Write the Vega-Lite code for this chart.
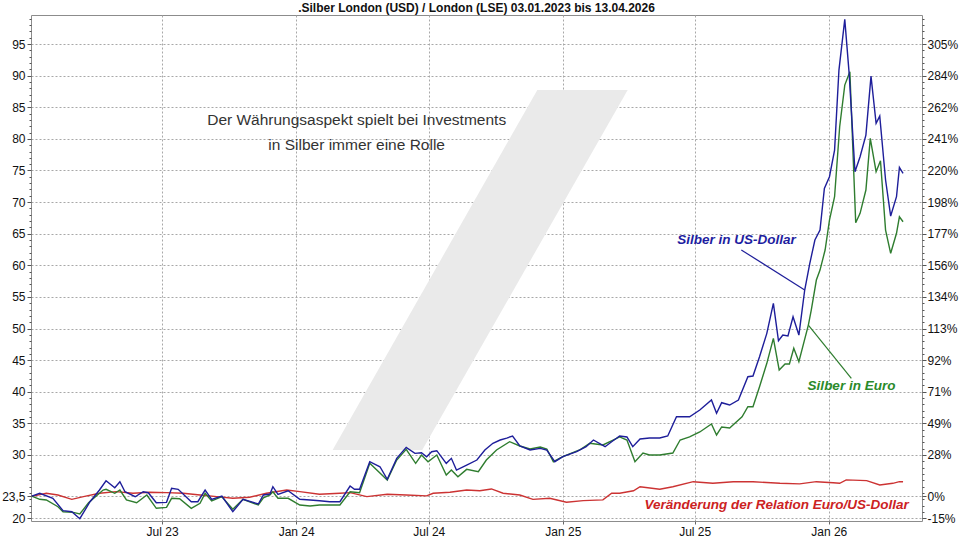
{
  "$schema": "https://vega.github.io/schema/vega-lite/v6.json",
  "width": 891,
  "height": 506,
  "autosize": {"type": "none"},
  "padding": {"left": 31, "top": 15, "right": 38, "bottom": 19},
  "background": "white",
  "title": {"text": ".Silber London (USD) / London (LSE) 03.01.2023 bis 13.04.2026", "font": "Liberation Sans", "fontSize": 12, "fontWeight": "bold", "color": "#111", "anchor": "middle", "frame": "group", "offset": 3, "dy": 5},
  "config": {"view": {"stroke": "#8c8c8c", "strokeWidth": 1}},
  "datasets": {
    "usd": [
      {"d":"2023-01-03","v":23.5},{"d":"2023-01-14","v":23.94},{"d":"2023-02-01","v":23.15},{"d":"2023-02-15","v":21.19},{"d":"2023-02-27","v":21.03},{"d":"2023-03-10","v":19.92},{"d":"2023-03-24","v":22.61},{"d":"2023-04-06","v":24.46},{"d":"2023-04-15","v":25.93},{"d":"2023-04-27","v":24.82},{"d":"2023-05-04","v":25.77},{"d":"2023-05-11","v":24.19},{"d":"2023-05-25","v":23.40},{"d":"2023-06-05","v":24.19},{"d":"2023-06-12","v":24.03},{"d":"2023-06-23","v":22.45},{"d":"2023-07-07","v":22.51},{"d":"2023-07-14","v":24.73},{"d":"2023-07-23","v":24.57},{"d":"2023-08-10","v":22.61},{"d":"2023-08-19","v":22.61},{"d":"2023-08-29","v":24.46},{"d":"2023-09-07","v":22.99},{"d":"2023-09-21","v":23.51},{"d":"2023-10-06","v":21.03},{"d":"2023-10-20","v":22.99},{"d":"2023-11-10","v":22.25},{"d":"2023-11-17","v":23.67},{"d":"2023-11-26","v":23.83},{"d":"2023-11-30","v":24.98},{"d":"2023-12-07","v":23.78},{"d":"2023-12-21","v":24.35},
      {"d":"2024-01-06","v":22.99},{"d":"2024-01-20","v":22.88},{"d":"2024-02-02","v":22.77},{"d":"2024-02-16","v":22.61},{"d":"2024-03-01","v":22.61},{"d":"2024-03-15","v":25.09},{"d":"2024-03-21","v":24.57},{"d":"2024-03-28","v":24.57},{"d":"2024-04-11","v":28.94},{"d":"2024-04-25","v":28.14},{"d":"2024-05-05","v":26.15},{"d":"2024-05-18","v":29.47},{"d":"2024-05-31","v":31.21},{"d":"2024-06-12","v":30.26},{"d":"2024-06-21","v":30.36},{"d":"2024-06-28","v":29.73},{"d":"2024-07-05","v":30.52},{"d":"2024-07-12","v":30.68},{"d":"2024-07-25","v":28.68},{"d":"2024-08-01","v":29.47},{"d":"2024-08-08","v":27.62},{"d":"2024-08-22","v":28.41},{"d":"2024-09-05","v":29.20},{"d":"2024-09-16","v":30.79},{"d":"2024-09-27","v":31.85},{"d":"2024-10-07","v":32.37},{"d":"2024-10-16","v":32.68},{"d":"2024-10-24","v":33.0},{"d":"2024-11-03","v":31.42},{"d":"2024-11-17","v":30.79},{"d":"2024-12-01","v":31.05},{"d":"2024-12-10","v":30.79},{"d":"2024-12-21","v":28.94},
      {"d":"2025-01-01","v":29.73},{"d":"2025-01-20","v":30.52},{"d":"2025-02-02","v":31.31},{"d":"2025-02-12","v":32.37},{"d":"2025-02-28","v":31.31},{"d":"2025-03-09","v":32.10},{"d":"2025-03-20","v":33.0},{"d":"2025-03-30","v":32.85},{"d":"2025-04-07","v":31.31},{"d":"2025-04-17","v":32.53},{"d":"2025-04-30","v":32.68},{"d":"2025-05-14","v":32.68},{"d":"2025-05-25","v":33.0},{"d":"2025-06-06","v":36.05},{"d":"2025-06-24","v":36.05},{"d":"2025-07-08","v":37.11},{"d":"2025-07-24","v":38.69},{"d":"2025-07-31","v":36.59},{"d":"2025-08-07","v":38.27},{"d":"2025-08-18","v":37.90},{"d":"2025-08-30","v":38.69},{"d":"2025-09-12","v":42.38},{"d":"2025-09-19","v":42.49},{"d":"2025-09-28","v":45.54},{"d":"2025-10-08","v":49.24},{"d":"2025-10-17","v":53.99},{"d":"2025-10-24","v":48.07},{"d":"2025-10-30","v":48.97},{"d":"2025-11-06","v":48.82},{"d":"2025-11-13","v":51.87},{"d":"2025-11-21","v":48.97},{"d":"2025-11-29","v":56.09},{"d":"2025-12-06","v":60.31},{"d":"2025-12-13","v":64.0},{"d":"2025-12-20","v":65.58},{"d":"2025-12-26","v":72.17},
      {"d":"2026-01-02","v":74.01},{"d":"2026-01-09","v":78.23},{"d":"2026-01-15","v":90.88},{"d":"2026-01-23","v":98.9},{"d":"2026-01-29","v":90.36},{"d":"2026-02-06","v":74.8},{"d":"2026-02-13","v":77.17},{"d":"2026-02-21","v":80.6},{"d":"2026-02-28","v":89.93},{"d":"2026-03-07","v":82.45},{"d":"2026-03-12","v":83.6},{"d":"2026-03-20","v":73.49},{"d":"2026-03-27","v":67.79},{"d":"2026-04-04","v":70.85},{"d":"2026-04-08","v":75.5},{"d":"2026-04-13","v":74.55}
    ],
    "eur": [
      {"d":"2023-01-03","v":23.5},{"d":"2023-01-14","v":22.99},{"d":"2023-01-23","v":22.88},{"d":"2023-02-08","v":21.82},{"d":"2023-02-15","v":21.03},{"d":"2023-03-01","v":20.93},{"d":"2023-03-10","v":20.66},{"d":"2023-03-22","v":22.45},{"d":"2023-04-11","v":24.46},{"d":"2023-04-15","v":24.57},{"d":"2023-04-27","v":23.94},{"d":"2023-05-04","v":24.46},{"d":"2023-05-13","v":22.88},{"d":"2023-05-27","v":22.45},{"d":"2023-06-10","v":23.67},{"d":"2023-06-23","v":21.57},{"d":"2023-07-07","v":21.72},{"d":"2023-07-14","v":23.15},{"d":"2023-07-25","v":23.08},{"d":"2023-08-10","v":21.57},{"d":"2023-08-22","v":22.36},{"d":"2023-08-29","v":23.94},{"d":"2023-09-07","v":22.72},{"d":"2023-09-21","v":23.40},{"d":"2023-10-06","v":21.41},{"d":"2023-10-20","v":22.99},{"d":"2023-11-10","v":22.09},{"d":"2023-11-17","v":23.24},{"d":"2023-11-26","v":23.67},{"d":"2023-11-30","v":24.19},{"d":"2023-12-07","v":23.15},{"d":"2023-12-21","v":23.15},
      {"d":"2024-01-06","v":22.09},{"d":"2024-01-20","v":21.93},{"d":"2024-02-02","v":22.09},{"d":"2024-03-01","v":22.09},{"d":"2024-03-15","v":24.19},{"d":"2024-03-28","v":24.03},{"d":"2024-04-11","v":28.68},{"d":"2024-05-05","v":26.04},{"d":"2024-05-18","v":29.20},{"d":"2024-05-31","v":30.90},{"d":"2024-06-13","v":28.68},{"d":"2024-06-21","v":30.0},{"d":"2024-06-30","v":28.94},{"d":"2024-07-12","v":30.0},{"d":"2024-07-25","v":26.84},{"d":"2024-08-01","v":27.62},{"d":"2024-08-10","v":26.56},{"d":"2024-08-22","v":27.73},{"d":"2024-09-07","v":27.35},{"d":"2024-09-18","v":29.20},{"d":"2024-10-02","v":30.79},{"d":"2024-10-20","v":32.10},{"d":"2024-11-03","v":31.42},{"d":"2024-11-17","v":30.95},{"d":"2024-12-01","v":31.26},{"d":"2024-12-10","v":30.95},{"d":"2024-12-19","v":28.94},
      {"d":"2025-01-01","v":29.73},{"d":"2025-01-24","v":30.79},{"d":"2025-02-07","v":31.85},{"d":"2025-02-25","v":31.58},{"d":"2025-03-11","v":32.37},{"d":"2025-03-20","v":32.85},{"d":"2025-03-30","v":32.37},{"d":"2025-04-10","v":28.94},{"d":"2025-04-21","v":30.31},{"d":"2025-04-30","v":30.0},{"d":"2025-05-14","v":30.0},{"d":"2025-06-01","v":30.31},{"d":"2025-06-11","v":32.37},{"d":"2025-06-24","v":32.85},{"d":"2025-07-08","v":33.64},{"d":"2025-07-24","v":34.90},{"d":"2025-07-31","v":33.17},{"d":"2025-08-07","v":34.43},{"d":"2025-08-18","v":34.27},{"d":"2025-09-04","v":36.05},{"d":"2025-09-12","v":37.63},{"d":"2025-09-19","v":37.63},{"d":"2025-09-28","v":40.80},{"d":"2025-10-08","v":44.50},{"d":"2025-10-17","v":48.45},{"d":"2025-10-25","v":43.44},{"d":"2025-11-02","v":44.39},{"d":"2025-11-08","v":44.39},{"d":"2025-11-14","v":46.87},{"d":"2025-11-21","v":44.75},{"d":"2025-12-04","v":50.55},{"d":"2025-12-08","v":52.93},{"d":"2025-12-15","v":57.67},{"d":"2025-12-20","v":59.25},{"d":"2025-12-27","v":62.42},
      {"d":"2026-01-02","v":67.16},{"d":"2026-01-09","v":70.85},{"d":"2026-01-16","v":81.92},{"d":"2026-01-23","v":88.51},{"d":"2026-01-30","v":90.62},{"d":"2026-02-07","v":66.73},{"d":"2026-02-13","v":68.22},{"d":"2026-02-21","v":71.91},{"d":"2026-02-27","v":80.08},{"d":"2026-03-07","v":74.80},{"d":"2026-03-13","v":76.54},{"d":"2026-03-20","v":65.58},{"d":"2026-03-27","v":61.90},{"d":"2026-04-04","v":65.06},{"d":"2026-04-08","v":67.68},{"d":"2026-04-13","v":66.89}
    ],
    "rel": [
      {"d":"2023-01-03","p":0},{"d":"2023-01-23","p":2.1},{"d":"2023-02-08","p":0.9},{"d":"2023-02-27","p":-2.0},{"d":"2023-03-15","p":-0.2},{"d":"2023-04-06","p":2.1},{"d":"2023-04-29","p":3.2},{"d":"2023-05-22","p":2.1},{"d":"2023-06-14","p":2.8},{"d":"2023-07-07","p":2.5},{"d":"2023-07-30","p":2.1},{"d":"2023-08-22","p":0.9},{"d":"2023-09-14","p":-0.2},{"d":"2023-10-06","p":-1.3},{"d":"2023-10-29","p":-0.6},{"d":"2023-11-21","p":2.1},{"d":"2023-12-19","p":4.3},
      {"d":"2024-01-06","p":3.2},{"d":"2024-02-02","p":1.4},{"d":"2024-03-01","p":2.1},{"d":"2024-03-15","p":2.5},{"d":"2024-04-07","p":-0.2},{"d":"2024-05-05","p":1.4},{"d":"2024-05-31","p":0.9},{"d":"2024-06-28","p":0.3},{"d":"2024-07-07","p":2.1},{"d":"2024-07-30","p":2.8},{"d":"2024-08-22","p":4.3},{"d":"2024-09-09","p":3.8},{"d":"2024-09-25","p":5.0},{"d":"2024-10-11","p":2.1},{"d":"2024-11-03","p":0.9},{"d":"2024-11-21","p":-2.0},{"d":"2024-12-14","p":-1.3},
      {"d":"2025-01-06","p":-4.0},{"d":"2025-01-29","p":-2.9},{"d":"2025-02-25","p":-2.4},{"d":"2025-03-09","p":2.1},{"d":"2025-03-20","p":2.1},{"d":"2025-04-08","p":3.8},{"d":"2025-04-17","p":6.5},{"d":"2025-05-14","p":4.8},{"d":"2025-06-01","p":6.5},{"d":"2025-06-29","p":9.9},{"d":"2025-07-26","p":8.8},{"d":"2025-08-23","p":9.9},{"d":"2025-09-19","p":9.9},{"d":"2025-10-26","p":8.8},{"d":"2025-11-22","p":8.4},{"d":"2025-12-15","p":9.9},
      {"d":"2026-01-07","p":9.2},{"d":"2026-01-16","p":8.8},{"d":"2026-01-25","p":11.1},{"d":"2026-02-22","p":10.6},{"d":"2026-03-12","p":7.7},{"d":"2026-03-30","p":8.8},{"d":"2026-04-08","p":9.9},{"d":"2026-04-13","p":9.9}
    ],
    "mark": [
      {"v":30.79,"d":"2024-02-20","d2":"2024-06-22"},
      {"v":87.72,"d":"2024-11-27","d2":"2025-03-31"}
    ],
    "intro": [
      {"d":"2024-03-24","v":82.98,"t":"Der Währungsaspekt spielt bei Investments"},
      {"d":"2024-03-24","v":79.03,"t":"in Silber immer eine Rolle"}
    ],
    "lblusd": [{"d":"2025-06-07","v":64.0,"t":"Silber in US-Dollar"}],
    "lbleur": [{"d":"2025-12-03","v":40.91,"t":"Silber in Euro"}],
    "lblrel": [{"d":"2025-04-23","v":22.09,"t":"Veränderung der Relation Euro/US-Dollar"}],
    "legusd": [{"d":"2025-09-03","v":62.43,"d2":"2025-11-29","v2":56.09}],
    "legeur": [{"d":"2025-12-04","v":50.55,"d2":"2026-02-01","v2":42.13}]
  },
  "encoding": {
    "x": {
      "field": "d", "type": "temporal",
      "scale": {"type": "utc", "domain": [{"year": 2023, "month": 1, "date": 2, "utc": true}, {"year": 2026, "month": 5, "date": 9, "utc": true}]},
      "axis": {
        "title": null,
        "labelExpr": "utcFormat(datum.value, '%b %y')",
        "values": [{"year": 2023, "month": 7, "date": 1, "utc": true}, {"year": 2024, "month": 1, "date": 1, "utc": true}, {"year": 2024, "month": 7, "date": 1, "utc": true}, {"year": 2025, "month": 1, "date": 1, "utc": true}, {"year": 2025, "month": 7, "date": 1, "utc": true}, {"year": 2026, "month": 1, "date": 1, "utc": true}],
        "grid": true, "gridColor": "#a8a8a8", "gridDash": [2, 2], "gridWidth": 1,
        "domain": false, "tickSize": 3, "tickColor": "#666",
        "labelFont": "Liberation Sans", "labelFontSize": 12, "labelColor": "#111", "labelPadding": 2, "labelFlush": false
      }
    }
  },
  "layer": [
    {
      "data": {"name": "rel"},
      "mark": {"type": "line", "color": "#cc3333", "strokeWidth": 1.4},
      "encoding": {
        "y": {
          "field": "p", "type": "quantitative",
          "scale": {"domain": [-16.613, 324.564], "nice": false, "zero": false},
          "axis": {
            "orient": "right", "title": null, "grid": false, "domain": false,
            "values": [0.18,-14.74,-10.47,-6.21,-1.95,2.31,6.58,10.84,15.10,19.37,23.63,27.89,32.16,36.42,40.68,44.95,49.21,53.47,57.73,62.00,66.26,70.52,74.79,79.05,83.31,87.58,91.84,96.10,100.37,104.63,108.89,113.16,117.42,121.68,125.94,130.21,134.47,138.73,143.00,147.26,151.52,155.79,160.05,164.31,168.58,172.84,177.10,181.37,185.63,189.89,194.15,198.42,202.68,206.94,211.21,215.47,219.73,224.00,228.26,232.52,236.79,241.05,245.31,249.58,253.84,258.10,262.37,266.63,270.89,275.15,279.42,283.68,287.94,292.21,296.47,300.73,305.00,309.26,313.52,317.79,322.05],
            "labelExpr": "(abs((datum.value+100)/4.26312 - 23.5) < 0.1 || abs((datum.value+100)/4.26312 - 20) < 0.1 || ((datum.value+100)/4.26312 > 29 && abs((datum.value+100)/4.26312 - 5*round((datum.value+100)/4.26312/5)) < 0.1)) ? round(datum.value) + '%' : ''",
            "tickSize": {"condition": {"test": "abs((datum.value+100)/4.26312 - 23.5) < 0.1 || abs((datum.value+100)/4.26312 - 20) < 0.1 || ((datum.value+100)/4.26312 > 29 && abs((datum.value+100)/4.26312 - 5*round((datum.value+100)/4.26312/5)) < 0.1)", "value": 4}, "value": 2},
            "tickColor": "#555", "labelOverlap": false,
            "labelFont": "Liberation Sans", "labelFontSize": 12, "labelColor": "#111", "labelPadding": 1
          }
        }
      }
    },
    {
      "encoding": {
        "y": {
          "field": "v", "type": "quantitative",
          "scale": {"domain": [19.56, 99.59], "nice": false, "zero": false},
          "axis": {
            "orient": "left", "title": null, "domain": false,
            "values": [23.5,20,21,22,23,24,25,26,27,28,29,30,31,32,33,34,35,36,37,38,39,40,41,42,43,44,45,46,47,48,49,50,51,52,53,54,55,56,57,58,59,60,61,62,63,64,65,66,67,68,69,70,71,72,73,74,75,76,77,78,79,80,81,82,83,84,85,86,87,88,89,90,91,92,93,94,95,96,97,98,99],
            "labelExpr": "datum.value == 23.5 ? '23,5' : ((datum.value == 20 || (datum.value >= 30 && datum.value % 5 == 0)) ? '' + datum.value : '')",
            "grid": true, "gridColor": "#a8a8a8", "gridDash": [2, 2],
            "gridOpacity": {"condition": {"test": "datum.value == 23.5 || datum.value == 20 || (datum.value >= 30 && datum.value % 5 == 0)", "value": 1}, "value": 0},
            "tickSize": {"condition": {"test": "datum.value == 23.5 || datum.value == 20 || (datum.value >= 30 && datum.value % 5 == 0)", "value": 4}, "value": 2},
            "tickColor": "#555", "labelOverlap": false,
            "labelFont": "Liberation Sans", "labelFontSize": 12, "labelColor": "#111", "labelPadding": 2
          }
        }
      },
      "layer": [
        {
          "data": {"name": "mark"},
          "mark": {"type": "area", "orient": "horizontal", "color": "#eaeaea"},
          "encoding": {"x2": {"field": "d2"}}
        },
        {
          "data": {"name": "intro"},
          "mark": {"type": "text", "font": "Liberation Sans", "fontSize": 15.5, "color": "#333", "align": "center", "baseline": "middle"},
          "encoding": {"text": {"field": "t"}}
        },
        {
          "data": {"name": "eur"},
          "mark": {"type": "line", "color": "#2f7d2f", "strokeWidth": 1.4}
        },
        {
          "data": {"name": "usd"},
          "mark": {"type": "line", "color": "#1e1e9a", "strokeWidth": 1.4}
        },
        {
          "data": {"name": "legusd"},
          "mark": {"type": "rule", "color": "#1e1e9a", "strokeWidth": 1.2},
          "encoding": {"x2": {"field": "d2"}, "y2": {"field": "v2"}}
        },
        {
          "data": {"name": "legeur"},
          "mark": {"type": "rule", "color": "#2f7d2f", "strokeWidth": 1.2},
          "encoding": {"x2": {"field": "d2"}, "y2": {"field": "v2"}}
        },
        {
          "data": {"name": "lblusd"},
          "mark": {"type": "text", "font": "Liberation Sans", "fontSize": 13.5, "fontWeight": "bold", "fontStyle": "italic", "color": "#1e1ea0", "align": "left", "baseline": "middle"},
          "encoding": {"text": {"field": "t"}}
        },
        {
          "data": {"name": "lbleur"},
          "mark": {"type": "text", "font": "Liberation Sans", "fontSize": 13.5, "fontWeight": "bold", "fontStyle": "italic", "color": "#2a8a2a", "align": "left", "baseline": "middle"},
          "encoding": {"text": {"field": "t"}}
        },
        {
          "data": {"name": "lblrel"},
          "mark": {"type": "text", "font": "Liberation Sans", "fontSize": 13.5, "fontWeight": "bold", "fontStyle": "italic", "color": "#cc2222", "align": "left", "baseline": "middle"},
          "encoding": {"text": {"field": "t"}}
        }
      ]
    }
  ],
  "resolve": {"scale": {"y": "independent"}}
}
